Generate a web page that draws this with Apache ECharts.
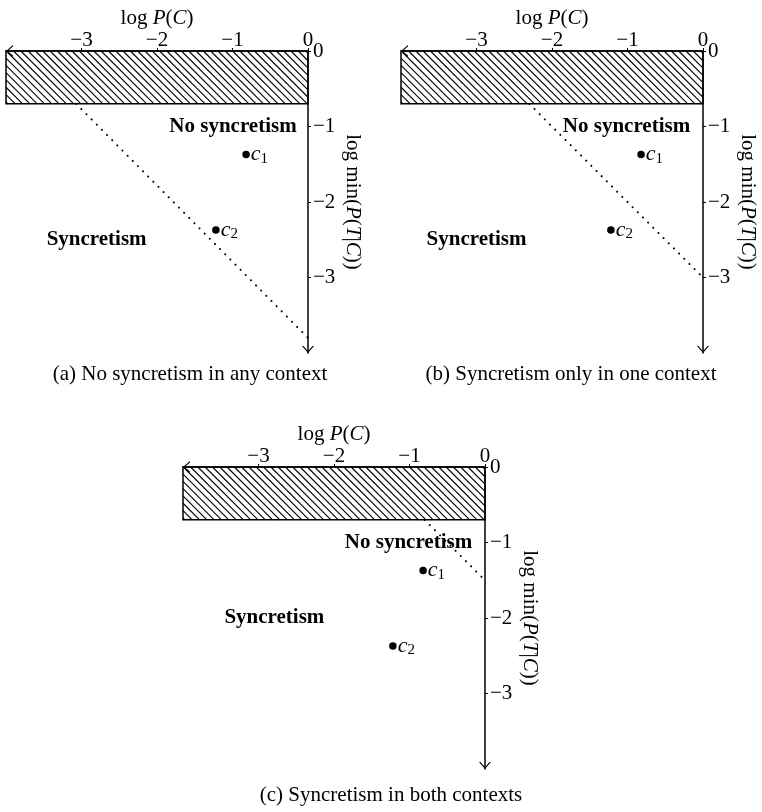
<!DOCTYPE html>
<html><head><meta charset="utf-8">
<script src="https://cdn.jsdelivr.net/npm/echarts@6/dist/echarts.min.js"></script>
<style>html,body{margin:0;padding:0;background:#fff}#c{width:762px;height:812px}</style>
</head><body><div id="c"></div>
<script>
// ---------- data ----------
const xTicks = [-3, -2, -1, 0];
const yTicks = [-3, -2, -1, 0];
const axisMin = -4, axisMax = 0;
const hatchRect = [-4, 0, -0.7, 0];           // xmin, xmax, ymin, ymax (excluded region)
const pointX = [-0.82, -1.22];
const pointY = [-1.37, -2.37];
const pointSub = ['1', '2'];
const boundaryA = [[-3.07, -0.7], [0, -3.8]];
const boundaryB = [[-2.3, -0.7], [0, -3.0]];
const boundaryC = [[-0.8, -0.7], [0, -1.5]];
const boundaries = [boundaryA, boundaryB, boundaryC];
const panelCaptions = ['(a) No syncretism in any context', '(b) Syncretism only in one context', '(c) Syncretism in both contexts'];
const regionNames = ['No syncretism', 'Syncretism'];
const noSyncAnchor = [[-0.15, -1.0], [-0.17, -1.0], [-0.17, -1.0]];
const syncAnchor = [[-2.8, -2.5], [-3.0, -2.5], [-2.79, -2.0]];

// ---------- chart ----------
const F = '"Liberation Serif", "DejaVu Serif", serif';
const FS = 21;
const ARROW = 'path://M0,7 L6,0 L12,7 L10.5,7 L6,1.7 L1.5,7 Z';
const fmt = v => v < 0 ? '\u2212' + Math.abs(v) : String(v);
const italic = { fontStyle: 'italic', fontFamily: F, fontSize: FS, color: '#000' };

const grids = [
  { left: 6, top: 51, width: 302, height: 302 },
  { left: 401, top: 51, width: 302, height: 302 },
  { left: 183, top: 467, width: 302, height: 302 }
];
const captionPos = [[190, 374], [571, 374], [391, 795]];

const xAxes = [], yAxes = [], series = [];
grids.forEach((g, i) => {
  xAxes.push({
    type: 'value', gridIndex: i, min: axisMin, max: axisMax, interval: 1, position: 'top',
    axisLine: { show: true, onZero: false, lineStyle: { color: '#000', width: 1.5 },
      symbol: [ARROW, 'none'], symbolSize: [12, 7], symbolOffset: [3.5, 0] },
    axisTick: { show: true, length: 3, customValues: xTicks, lineStyle: { color: '#000', width: 1 } },
    axisLabel: { customValues: xTicks, formatter: fmt, color: '#000', fontFamily: F, fontSize: FS, margin: 0 },
    splitLine: { show: false },
    name: 'log {i|P}({i|C})', nameLocation: 'middle', nameGap: 22,
    nameTextStyle: { color: '#000', fontFamily: F, fontSize: FS, rich: { i: italic } }
  });
  yAxes.push({
    type: 'value', gridIndex: i, min: axisMin, max: axisMax, interval: 1, position: 'right',
    axisLine: { show: true, onZero: false, lineStyle: { color: '#000', width: 1.5 },
      symbol: [ARROW, 'none'], symbolSize: [12, 7], symbolOffset: [3.5, 0] },
    axisTick: { show: true, length: 3, customValues: yTicks, lineStyle: { color: '#000', width: 1 } },
    axisLabel: { customValues: yTicks, formatter: fmt, color: '#000', fontFamily: F, fontSize: FS, margin: 5 },
    splitLine: { show: false },
    name: 'log min({i|P}({i|T}|{i|C}))', nameLocation: 'middle', nameRotate: -90, nameGap: 34,
    nameTextStyle: { color: '#000', fontFamily: F, fontSize: FS, rich: { i: italic } }
  });
  // hatched excluded region
  series.push({
    type: 'custom', xAxisIndex: i, yAxisIndex: i, silent: true, z: 1,
    encode: { x: [0, 1], y: [2, 3] },
    data: [hatchRect],
    renderItem: (params, api) => {
      const p0 = api.coord([api.value(0), api.value(3)]);
      const p1 = api.coord([api.value(1), api.value(2)]);
      const L = p0[0], T = p0[1], R = p1[0], B = p1[1], H = B - T;
      const children = [];
      const step = 7.3;
      for (let x0 = L - H + 2; x0 < R; x0 += step) {
        let xs = x0, ys = T, xe = x0 + H, ye = B;
        if (xs < L) { ys = T + (L - xs); xs = L; }
        if (xe > R) { ye = B - (xe - R); xe = R; }
        if (xe <= xs) continue;
        children.push({ type: 'line', shape: { x1: xs, y1: ys, x2: xe, y2: ye }, style: { stroke: '#000', lineWidth: 1.1 } });
      }
      children.push({ type: 'rect', shape: { x: L, y: T, width: R - L, height: H }, style: { fill: null, stroke: '#000', lineWidth: 1.5 } });
      return { type: 'group', children };
    }
  });
  // dotted boundary
  series.push({
    type: 'line', xAxisIndex: i, yAxisIndex: i, silent: true, symbol: 'none', z: 3,
    data: boundaries[i],
    lineStyle: { color: '#000', width: 2, type: [0.1, 7.2], cap: 'round', opacity: 1 }
  });
  // contexts c1, c2
  series.push({
    type: 'scatter', xAxisIndex: i, yAxisIndex: i, silent: true, symbol: 'circle', symbolSize: 7.5,
    itemStyle: { color: '#000', opacity: 1 },
    data: pointX.map((x, k) => [x, pointY[k], pointSub[k]]),
    label: { show: true, position: 'right', distance: 1, opacity: 1,
      formatter: p => '{i|c}{s|' + p.value[2] + '}',
      rich: { i: { fontStyle: 'italic', fontFamily: F, fontSize: 22, color: '#000' },
              s: { fontFamily: F, fontSize: 15, color: '#000', padding: [9, 0, 0, 0] } } }
  });
  // region labels
  series.push({
    type: 'scatter', xAxisIndex: i, yAxisIndex: i, silent: true, symbolSize: 0, z: 2,
    itemStyle: { opacity: 1 },
    data: [noSyncAnchor[i]],
    label: { show: true, position: 'left', distance: 0, formatter: regionNames[0], opacity: 1,
      fontFamily: F, fontSize: FS, fontWeight: 'bold', color: '#000' }
  });
  series.push({
    type: 'scatter', xAxisIndex: i, yAxisIndex: i, silent: true, symbolSize: 0, z: 2,
    itemStyle: { opacity: 1 },
    data: [syncAnchor[i]],
    label: { show: true, position: 'inside', formatter: regionNames[1], opacity: 1,
      fontFamily: F, fontSize: FS, fontWeight: 'bold', color: '#000' }
  });
});

const graphics = panelCaptions.map((t, i) => ({
  type: 'text', x: captionPos[i][0], y: captionPos[i][1], silent: true,
  style: { text: t, fontFamily: F, fontSize: FS, fill: '#000', align: 'center', verticalAlign: 'middle' }
}));

const chart = echarts.init(document.getElementById('c'), null, { renderer: 'canvas' });
chart.setOption({
  animation: false,
  backgroundColor: '#fff',
  grid: grids,
  xAxis: xAxes,
  yAxis: yAxes,
  series: series,
  graphic: graphics
});
</script>
</body></html>
